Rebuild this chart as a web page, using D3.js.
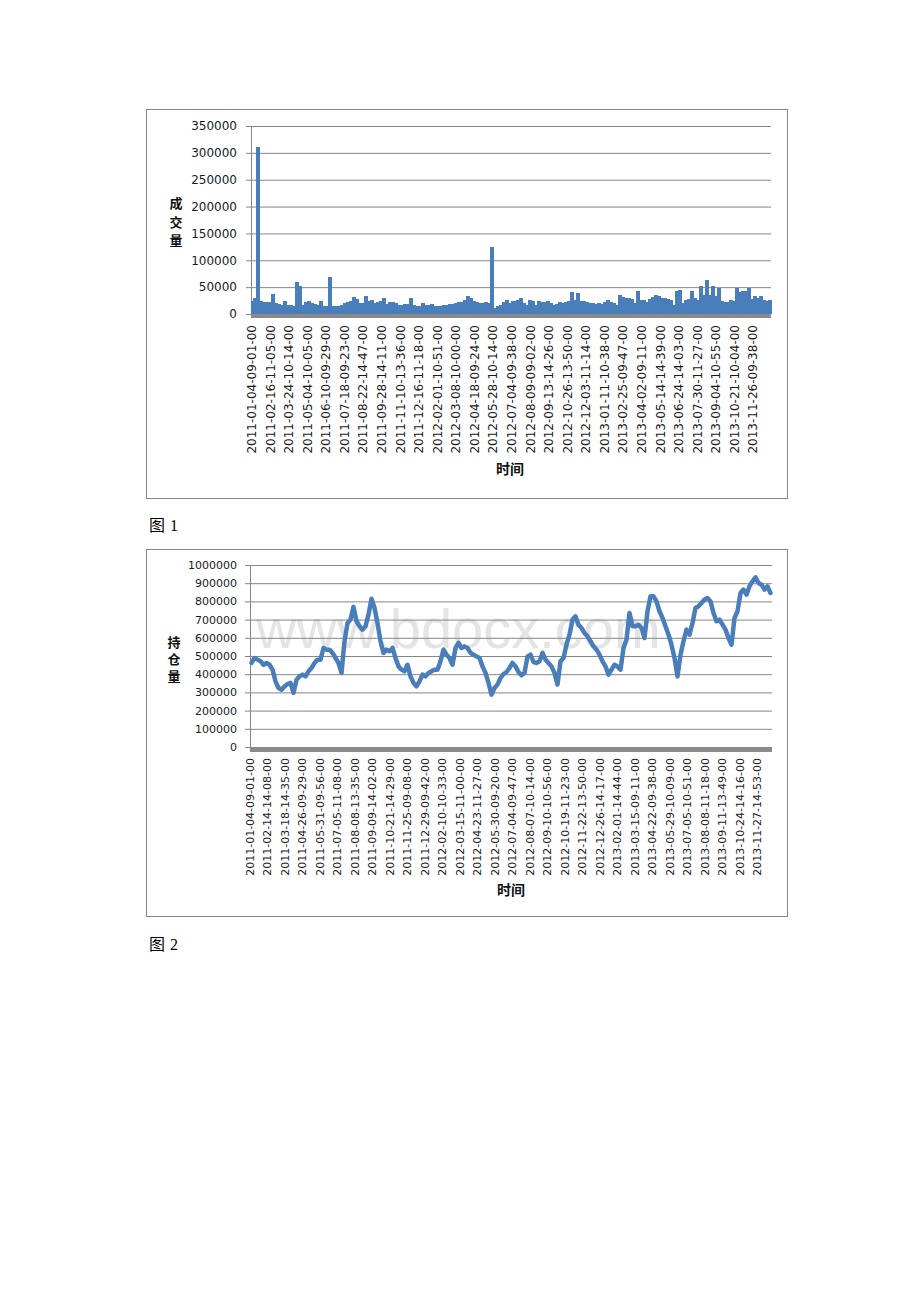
<!DOCTYPE html>
<html><head><meta charset="utf-8">
<script src="https://cdn.jsdelivr.net/npm/d3@7"></script>
<style>html,body{margin:0;padding:0;background:#fff;}</style>
</head><body><div id="chart"></div>
<script>
const volumeTicks = [0, 50000, 100000, 150000, 200000, 250000, 300000, 350000];
const volumeLabels = ["2011-01-04-09-01-00","2011-02-16-11-05-00","2011-03-24-10-14-00","2011-05-04-10-05-00","2011-06-10-09-29-00","2011-07-18-09-23-00","2011-08-22-14-47-00","2011-09-28-14-11-00","2011-11-10-13-36-00","2011-12-16-11-18-00","2012-02-01-10-51-00","2012-03-08-10-00-00","2012-04-18-09-24-00","2012-05-28-10-14-00","2012-07-04-09-38-00","2012-08-09-09-02-00","2012-09-13-14-26-00","2012-10-26-13-50-00","2012-12-03-11-14-00","2013-01-11-10-38-00","2013-02-25-09-47-00","2013-04-02-09-11-00","2013-05-14-14-39-00","2013-06-24-14-03-00","2013-07-30-11-27-00","2013-09-04-10-55-00","2013-10-21-10-04-00","2013-11-26-09-38-00"];
const volumeValues = [
23500, 30000, 310000, 23500, 22400, 22000, 21700, 37200, 20500, 19000,
17300, 23500, 17300, 16700, 14200, 58900, 52700, 17300, 21700, 24800,
20500, 18600, 17300, 23500, 15500, 14200, 68000, 15500, 15500, 15500,
17300, 20500, 21700, 23500, 31600, 27900, 20500, 20500, 34100, 23500,
26600, 20500, 21700, 23500, 29700, 18600, 22400, 22400, 20500, 17300,
17300, 17900, 18600, 29700, 16100, 15500, 14200, 20500, 16700, 16100,
18600, 15500, 14200, 14200, 17300, 17300, 18600, 18600, 20500, 21700,
21700, 26600, 34100, 29700, 23500, 22400, 20500, 20500, 21700, 20500,
124000, 11100, 14200, 17300, 21700, 26600, 20500, 24800,
23500, 26600, 29700, 20500, 17300, 25400, 23500, 17300, 23500, 21700,
21700, 23500, 20500, 17300, 18600, 21700, 20500, 22400, 23500, 41500,
26600, 39000, 24800, 23500, 22400, 20500, 20500, 19000, 20500, 18600,
22400, 25400, 21700, 20500, 17300, 35900, 31000, 29700, 29700, 27900,
20500, 42100, 26600, 25400, 21700, 27900, 31600, 35900, 32800, 29700,
29700, 27900, 25400, 17300, 42700, 44000, 20500, 26600, 27900, 42100,
29700, 26600, 52700, 35900, 62600, 35900, 51400, 32800, 48400, 23500,
21700, 21700, 26600, 23500, 48400, 40300, 42100, 42100, 48400, 27900,
34100, 29700, 34100, 25400, 23500, 26600];

const oiTicks = [0, 100000, 200000, 300000, 400000, 500000, 600000, 700000, 800000, 900000, 1000000];
const oiLabels = ["2011-01-04-09-01-00","2011-02-14-14-08-00","2011-03-18-14-35-00","2011-04-26-09-29-00","2011-05-31-09-56-00","2011-07-05-11-08-00","2011-08-08-13-35-00","2011-09-09-14-02-00","2011-10-21-14-29-00","2011-11-25-09-08-00","2011-12-29-09-42-00","2012-02-10-10-33-00","2012-03-15-11-00-00","2012-04-23-11-27-00","2012-05-30-09-20-00","2012-07-04-09-47-00","2012-08-07-10-14-00","2012-09-10-10-56-00","2012-10-19-11-23-00","2012-11-22-13-50-00","2012-12-26-14-17-00","2013-02-01-14-44-00","2013-03-15-09-11-00","2013-04-22-09-38-00","2013-05-29-10-09-00","2013-07-05-10-51-00","2013-08-08-11-18-00","2013-09-11-13-49-00","2013-10-24-14-16-00","2013-11-27-14-53-00"];
const oiValues = [
462000, 489000, 480000, 471000, 452000, 462000, 452000, 425000, 361000, 324000,
315000, 333000, 346000, 352000, 297000, 370000, 388000, 398000, 388000, 416000,
434000, 462000, 480000, 480000, 544000, 535000, 535000, 517000, 489000, 462000,
407000, 581000, 681000, 700000, 770000, 691000, 663000, 645000, 663000, 727000,
815000, 764000, 681000, 581000, 517000, 535000, 526000, 544000, 489000, 443000,
425000, 416000, 452000, 388000, 352000, 333000, 361000, 398000, 388000, 407000,
416000, 425000, 425000, 471000, 535000, 507000, 489000,
452000, 544000, 572000, 544000, 553000, 544000, 517000, 507000, 498000, 489000,
443000, 407000, 352000, 288000, 324000, 343000, 379000, 401000, 412000, 434000,
462000, 443000, 412000, 394000, 407000, 498000, 507000, 467000, 462000, 471000,
517000, 480000, 462000, 443000, 407000, 343000, 471000, 489000, 562000, 617000,
700000, 718000, 672000, 654000, 626000, 608000, 581000, 553000, 535000, 507000,
471000, 443000, 398000, 425000, 452000, 443000, 425000, 544000, 590000, 736000,
663000, 663000, 672000, 654000, 599000, 746000, 828000, 828000, 800000, 746000,
709000, 663000, 617000, 562000, 489000, 388000, 507000, 581000, 645000, 617000,
681000, 764000, 773000, 791000, 810000, 819000, 800000, 736000, 691000, 700000,
672000, 645000, 599000, 562000, 709000, 746000, 846000, 865000, 837000, 883000,
910000, 932000, 901000, 892000, 865000, 883000, 846000];

const BLUE = '#4a7ebb', GRID = '#868686';
const svg = d3.select('#chart').append('svg').attr('width', 920).attr('height', 1302);
svg.append('rect').attr('width', 920).attr('height', 1302).attr('fill', '#fff');

function drawChart(o) {
  const g = svg.append('g');
  g.append('rect').attr('x', o.frame[0] + 0.5).attr('y', o.frame[1] + 0.5)
    .attr('width', o.frame[2]).attr('height', o.frame[3])
    .attr('fill', '#fff').attr('stroke', GRID);

  if (o.watermark) {
    g.append('text').attr('x', o.watermark[0]).attr('y', o.watermark[1])
      .attr('font-family', 'Liberation Sans').attr('font-size', 56)
      .attr('fill', '#e4e4e4').text('www.bdocx.com');
  }

  const y = d3.scaleLinear().domain([0, o.yMax]).range([o.bottom, o.top]);
  const xb = d3.scaleBand().domain(d3.range(o.values.length)).range([o.left, o.right]).padding(0);

  const grid = g.append('g').attr('transform', `translate(${o.left},0)`)
    .call(d3.axisLeft(y).tickValues(o.ticks).tickSize(-(o.right - o.left)).tickSizeOuter(0).tickFormat(''));
  grid.select('.domain').remove();
  grid.selectAll('line').attr('stroke', GRID);

  const ax = g.append('g').attr('transform', `translate(${o.left},0)`)
    .call(d3.axisLeft(y).tickValues(o.ticks).tickSize(5).tickSizeOuter(0).tickPadding(o.tickPad).tickFormat(d3.format('d')));
  ax.select('.domain').attr('stroke', GRID);
  ax.selectAll('line').attr('stroke', GRID);
  ax.selectAll('text').attr('font-family', 'DejaVu Sans').attr('font-size', o.yFont).attr('fill', '#1a1a1a');

  if (o.kind === 'bar') {
    g.append('g').attr('shape-rendering', 'crispEdges').selectAll('rect').data(o.values).join('rect')
      .attr('x', (d, i) => Math.floor(xb(i))).attr('width', Math.ceil(xb.bandwidth()) + 1)
      .attr('y', d => y(d)).attr('height', d => y(0) - y(d))
      .attr('fill', BLUE);
  } else {
    const line = d3.line().x((d, i) => xb(i) + xb.bandwidth() / 2).y(d => y(d));
    g.append('path').datum(o.values).attr('d', line)
      .attr('fill', 'none').attr('stroke', BLUE).attr('stroke-width', 4.5)
      .attr('stroke-linejoin', 'round').attr('stroke-linecap', 'round');
  }

  // floor
  g.append('rect').attr('x', o.left).attr('y', o.bottom).attr('width', o.right - o.left)
    .attr('height', o.floorH).attr('fill', '#8a8a8a');

  const xl = d3.scaleLinear().domain([0, o.labelSpan]).range([o.left, o.right]);
  g.append('g').selectAll('text').data(o.labels).join('text')
    .attr('transform', (d, i) => `translate(${xl(i) + o.labelShift},${o.labelTop}) rotate(-90)`)
    .attr('text-anchor', 'end').attr('dy', '0.36em')
    .attr('font-family', 'DejaVu Sans').attr('font-size', o.xFont).attr('fill', '#1a1a1a')
    .text(d => d);

  g.append('text').attr('x', o.xTitle[0]).attr('y', o.xTitle[1]).attr('text-anchor', 'middle')
    .attr('font-family', 'Noto Sans CJK SC').attr('font-weight', 'bold').attr('font-size', 14)
    .attr('fill', '#111').text('时间');

  g.append('g').selectAll('text').data(o.yTitle.split('')).join('text')
    .attr('x', o.yTitlePos[0]).attr('y', (d, i) => o.yTitlePos[1] + i * o.yTitleStep)
    .attr('text-anchor', 'middle')
    .attr('font-family', 'Noto Sans CJK SC').attr('font-weight', 'bold').attr('font-size', 13)
    .attr('fill', '#111').text(d => d);

  const cap = svg.append('text').attr('x', o.caption[0]).attr('y', o.caption[1])
    .attr('font-size', 16).attr('fill', '#000');
  cap.append('tspan').attr('font-family', 'Noto Sans CJK SC').text('图');
  cap.append('tspan').attr('font-family', 'Liberation Serif').attr('dx', 5).text(o.captionNum);
}

drawChart({
  frame: [146, 109, 641, 389], left: 251, right: 771, top: 126, bottom: 314,
  yMax: 350000, ticks: volumeTicks, tickPad: 9, yFont: 12,
  values: volumeValues, kind: 'bar', floorH: 4,
  labels: volumeLabels, labelSpan: 28, labelShift: 0.7, labelTop: 325, xFont: 12,
  xTitle: [510, 474], yTitle: '成交量', yTitlePos: [176, 208], yTitleStep: 18.5,
  caption: [149, 531], captionNum: '1'
});

drawChart({
  frame: [146, 549, 641, 367], left: 250, right: 772, top: 565, bottom: 747,
  yMax: 1000000, ticks: oiTicks, tickPad: 8, yFont: 11,
  values: oiValues, kind: 'line', floorH: 5,
  labels: oiLabels, labelSpan: 29.83, labelShift: 0, labelTop: 758, xFont: 11,
  xTitle: [511, 895], yTitle: '持仓量', yTitlePos: [174, 647], yTitleStep: 17,
  caption: [149, 950], captionNum: '2',
  watermark: [256, 648]
});
</script>
</body></html>
